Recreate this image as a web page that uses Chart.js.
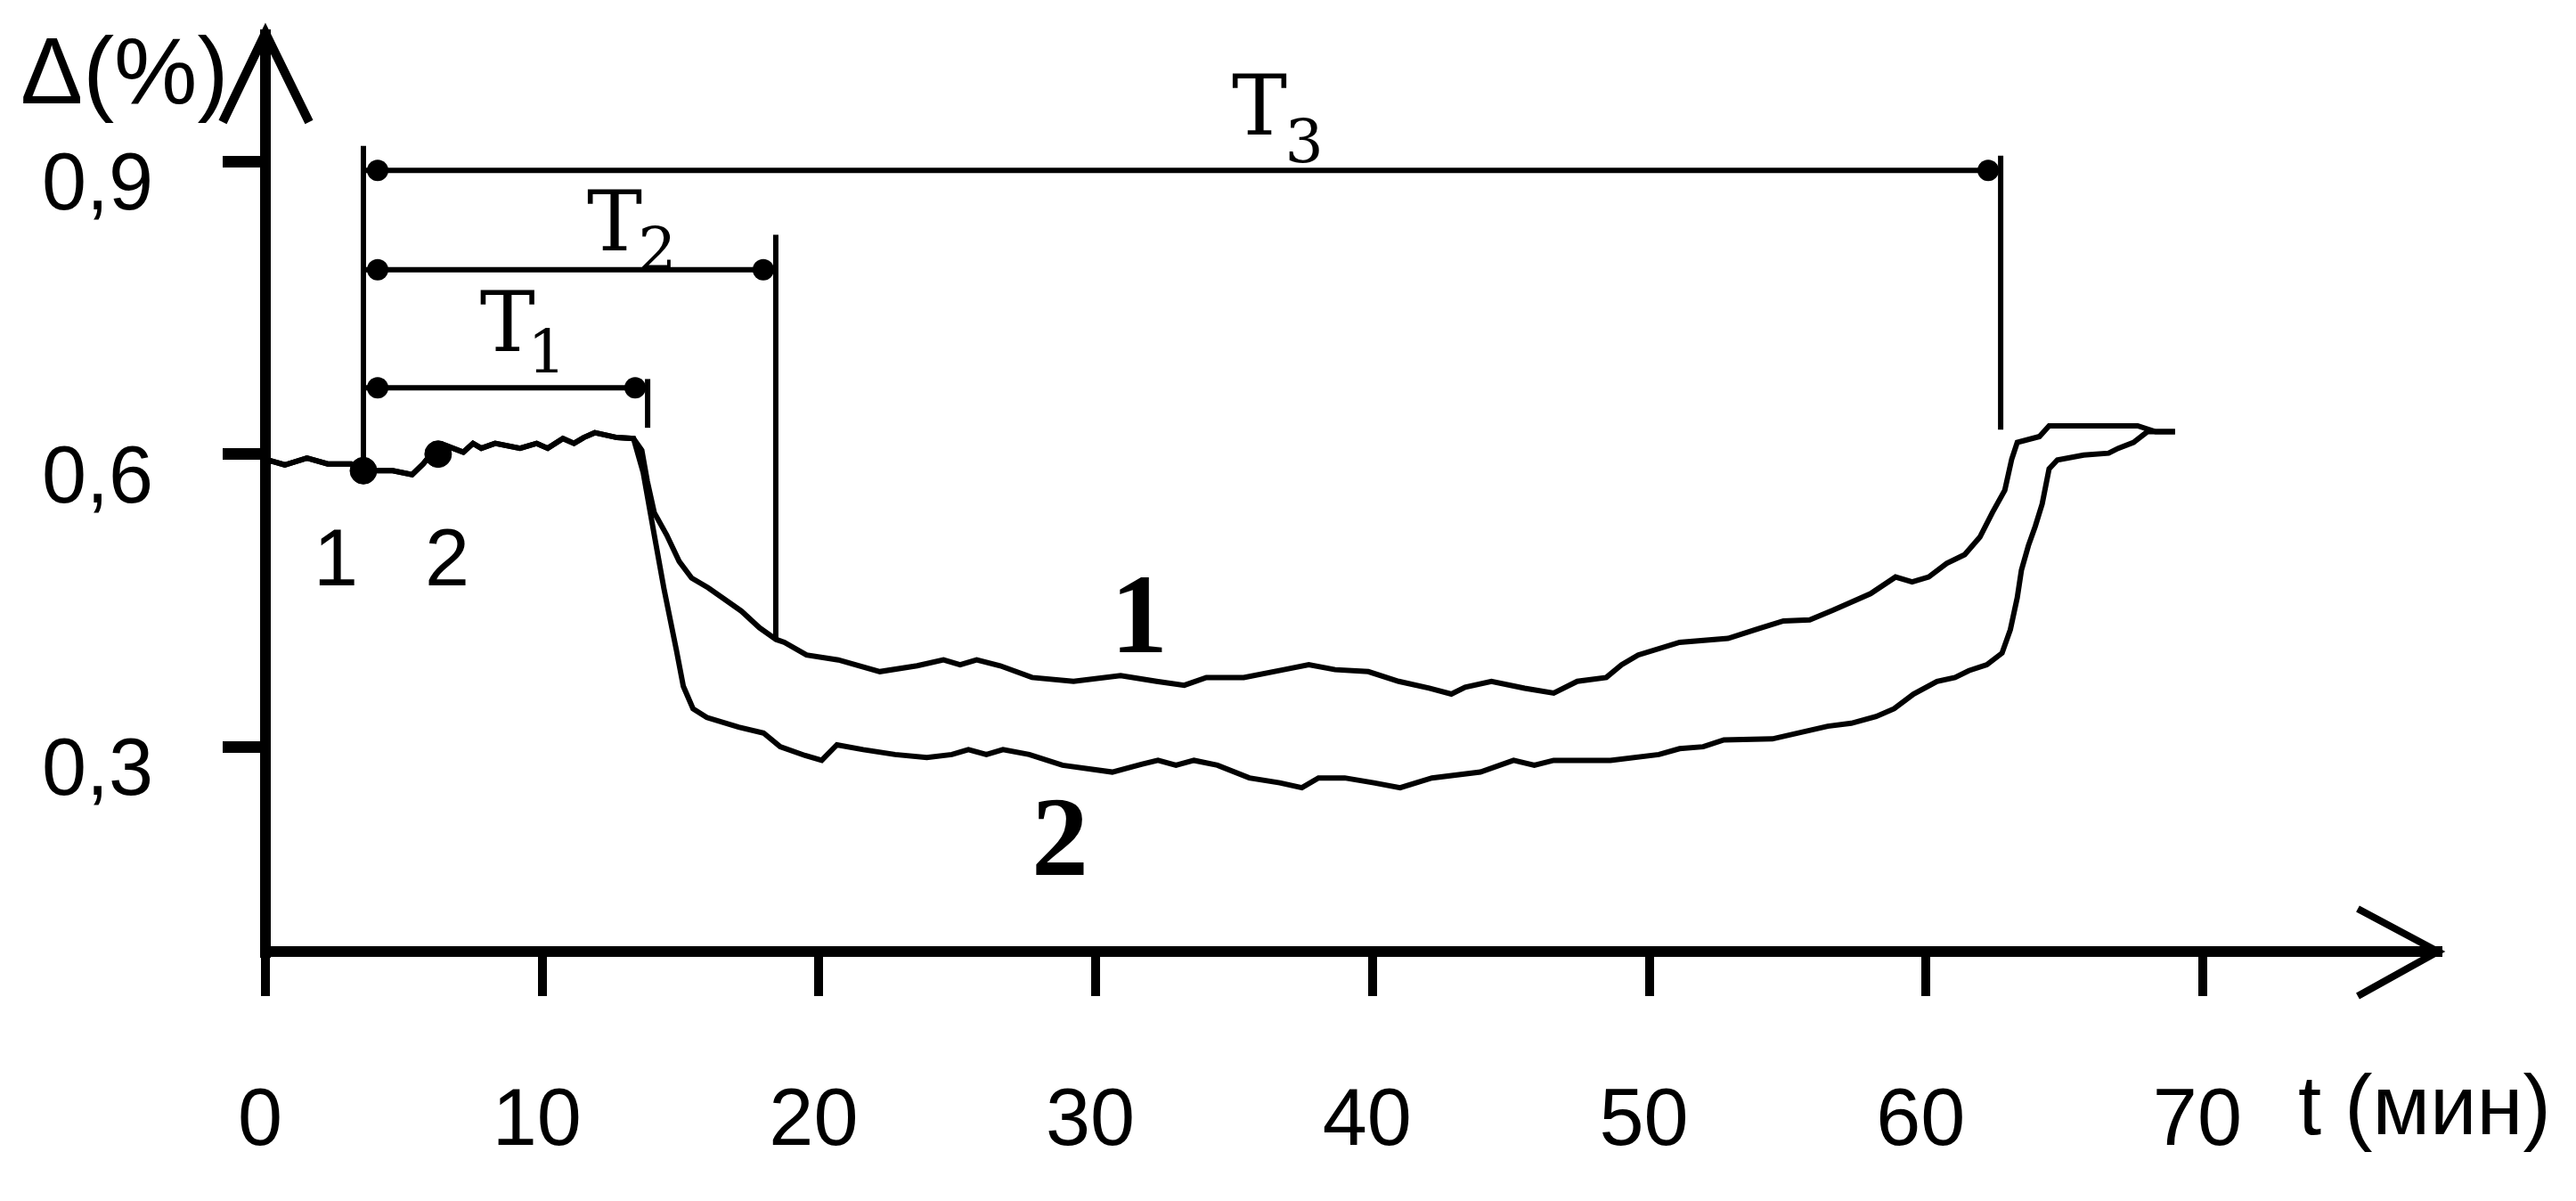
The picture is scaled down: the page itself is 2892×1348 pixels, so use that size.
<!DOCTYPE html>
<html>
<head>
<meta charset="utf-8">
<script src="https://cdn.jsdelivr.net/npm/chart.js@4.4.0/dist/chart.umd.min.js"></script>
<style>
    html, body { margin: 0; padding: 0; background: #fff; }
    .grafico-contenedor { width: 2892px; height: 1348px; }
</style>
</head>
<body>
<div class="grafico-contenedor">
    <canvas id="graficoDelta"></canvas>
</div>
<script>
// Tramo común de las dos curvas (hasta ~13 min)
const tiempoComun = [0.05, 0.2, 0.7, 1.5, 2.25, 3.1, 3.54, 4.6, 5.3, 5.7, 6.1, 6.5, 7.15, 7.5, 7.8, 8.3, 9.2, 9.8, 10.2, 10.75, 11.15, 11.5, 11.9, 12.7, 13.3];
const valorComun = [0.590, 0.593, 0.589, 0.596, 0.590, 0.590, 0.583, 0.583, 0.579, 0.590, 0.604, 0.609, 0.602, 0.611, 0.606, 0.611, 0.606, 0.611, 0.606, 0.616, 0.611, 0.617, 0.622, 0.617, 0.616];

// Curva 1
const tiempoCurva1 = [13.6, 13.8, 14.05, 14.5, 14.95, 15.4, 16.0, 16.55, 17.2, 17.85, 18.45, 18.75, 19.55, 20.7, 22.2, 23.55, 24.5, 25.1, 25.7, 26.55, 27.7, 29.2, 30.9, 32.2, 33.2, 34.0, 35.35, 36.8, 37.7, 38.65, 39.85, 40.95, 42.05, 42.85, 43.35, 44.3, 45.5, 46.55, 47.4, 48.45, 49.0, 49.6, 51.1, 52.85, 53.95, 54.85, 55.8, 56.65, 57.2, 58.0, 58.9, 59.5, 60.1, 60.75, 61.4, 61.95, 62.4, 62.85, 63.1, 63.3, 64.1, 64.45, 66.05, 67.65, 68.3, 69.0];
const valorCurva1 = [0.604, 0.572, 0.540, 0.517, 0.490, 0.473, 0.463, 0.452, 0.439, 0.422, 0.410, 0.407, 0.394, 0.389, 0.377, 0.383, 0.389, 0.384, 0.389, 0.383, 0.371, 0.367, 0.373, 0.367, 0.363, 0.371, 0.371, 0.379, 0.384, 0.379, 0.377, 0.367, 0.360, 0.354, 0.361, 0.367, 0.360, 0.355, 0.367, 0.371, 0.384, 0.394, 0.407, 0.411, 0.421, 0.429, 0.430, 0.440, 0.447, 0.457, 0.474, 0.469, 0.474, 0.488, 0.497, 0.515, 0.540, 0.563, 0.595, 0.612, 0.618, 0.629, 0.629, 0.629, 0.623, 0.623];

// Curva 2
const tiempoCurva2 = [13.65, 14.05, 14.4, 14.85, 15.1, 15.45, 15.95, 17.1, 18.0, 18.6, 19.5, 20.1, 20.65, 21.6, 22.75, 23.9, 24.8, 25.4, 26.05, 26.65, 27.6, 28.8, 30.6, 31.65, 32.25, 32.9, 33.55, 34.4, 35.55, 36.65, 37.45, 38.05, 39.0, 40.05, 41.0, 42.15, 43.9, 45.1, 45.85, 46.55, 48.6, 50.35, 51.1, 51.95, 52.7, 54.45, 56.45, 57.3, 58.2, 58.85, 59.55, 60.4, 61.05, 61.55, 62.2, 62.75, 63.05, 63.3, 63.45, 63.7, 63.95, 64.2, 64.45, 64.75, 65.7, 66.6, 66.95, 67.5, 68.0, 69.0];
const valorCurva2 = [0.581, 0.517, 0.462, 0.399, 0.362, 0.339, 0.330, 0.320, 0.314, 0.300, 0.291, 0.286, 0.302, 0.297, 0.292, 0.289, 0.292, 0.297, 0.292, 0.297, 0.292, 0.281, 0.274, 0.282, 0.286, 0.281, 0.286, 0.281, 0.268, 0.263, 0.258, 0.268, 0.268, 0.263, 0.258, 0.268, 0.274, 0.286, 0.281, 0.286, 0.286, 0.292, 0.298, 0.300, 0.307, 0.308, 0.321, 0.324, 0.331, 0.339, 0.354, 0.367, 0.371, 0.378, 0.384, 0.396, 0.420, 0.453, 0.481, 0.506, 0.526, 0.549, 0.585, 0.594, 0.599, 0.601, 0.606, 0.612, 0.623, 0.623];

// Puntos de inicio 1 y 2
const tiempoMarcas = [3.54, 6.24];
const valorMarcas = [0.583, 0.600];
const etiquetasMarcas = ['1', '2'];

// Ejes
const ticksTiempo = [0, 10, 20, 30, 40, 50, 60, 70];
const ticksDelta = [0.3, 0.6, 0.9];

// Intervalos T1, T2, T3 (min) y su altura en el eje Δ
const cotaInicio = 3.54;
const cotaFin = [13.81, 18.44, 62.7];
const cotaNivel = [0.668, 0.789, 0.891];
const cotaArriba = [0.677, 0.825, 0.906];
const cotaAbajo = [0.627, 0.410, 0.625];
const cotaNombres = ['1', '2', '3'];

const fuenteNum = '"Liberation Sans", sans-serif';
const fuenteT = '"DejaVu Serif", serif';
const fuenteCurva = '"Liberation Serif", serif';

function armarPuntos(tiempos, valores) {
    return tiempos.map((t, i) => ({ x: t, y: valores[i] }));
}

const anotaciones = {
    id: 'anotaciones',
    afterDraw(chart) {
        const { ctx, chartArea } = chart;
        const ejeX = chart.scales.x;
        const ejeY = chart.scales.y;
        const px = t => ejeX.getPixelForValue(t);
        const py = v => ejeY.getPixelForValue(v);

        const linea = (x1, y1, x2, y2) => {
            ctx.beginPath();
            ctx.moveTo(x1, y1);
            ctx.lineTo(x2, y2);
            ctx.stroke();
        };
        const punta = (cx, cy) => {
            ctx.beginPath();
            ctx.arc(cx, cy, 12, 0, Math.PI * 2);
            ctx.fill();
        };

        ctx.save();
        ctx.strokeStyle = '#000';
        ctx.fillStyle = '#000';

        // flechas de los ejes
        ctx.lineWidth = 10;
        ctx.beginPath();
        ctx.moveTo(chartArea.left - 48, chartArea.top + 98);
        ctx.lineTo(chartArea.left, chartArea.top - 2);
        ctx.lineTo(chartArea.left + 49, chartArea.top + 98);
        ctx.stroke();
        ctx.lineWidth = 8;
        ctx.beginPath();
        ctx.moveTo(chartArea.right - 90, chartArea.bottom - 48);
        ctx.lineTo(chartArea.right, chartArea.bottom);
        ctx.lineTo(chartArea.right - 90, chartArea.bottom + 50);
        ctx.stroke();

        // cotas T1, T2, T3
        ctx.lineWidth = 6;
        const x0 = px(cotaInicio);
        linea(x0, py(0.916), x0, py(valorMarcas[0]));
        cotaFin.forEach((tFin, i) => {
            const yc = py(cotaNivel[i]);
            const x1 = px(tFin);
            linea(x0, yc, x1, yc);
            linea(x1, py(cotaArriba[i]), x1, py(cotaAbajo[i]));
            punta(x0 + 16, yc);
            punta(x1 - 14, yc);
        });

        // letras T con subíndice
        const letrasT = [[8.75, 0.706, 10.17, 0.684], [12.62, 0.809, 14.16, 0.789], [35.92, 0.928, 37.53, 0.899]];
        ctx.textAlign = 'center';
        ctx.textBaseline = 'alphabetic';
        letrasT.forEach((p, i) => {
            ctx.font = '93px ' + fuenteT;
            ctx.fillText('T', px(p[0]), py(p[1]));
            ctx.font = '68px ' + fuenteT;
            ctx.fillText(cotaNombres[i], px(p[2]), py(p[3]));
        });

        // números bajo los puntos de inicio
        ctx.font = '90px ' + fuenteNum;
        ctx.fillText(etiquetasMarcas[0], px(2.54), py(0.465));
        ctx.fillText(etiquetasMarcas[1], px(6.57), py(0.465));

        // números de las curvas
        ctx.font = 'bold 128px ' + fuenteCurva;
        ctx.fillText('1', px(31.57), py(0.397));
        ctx.fillText('2', px(28.71), py(0.169));

        // títulos de los ejes
        ctx.textAlign = 'left';
        ctx.font = '105px ' + fuenteNum;
        ctx.fillText('Δ(%)', 23, 116);
        ctx.font = '94px ' + fuenteNum;
        ctx.fillText('t (мин)', px(70) + 107, 1273);

        ctx.restore();
    }
};

const ctx = document.getElementById('graficoDelta').getContext('2d');
new Chart(ctx, {
    type: 'line',
    data: {
        datasets: [
            {
                label: '1',
                data: armarPuntos(tiempoComun.concat(tiempoCurva1), valorComun.concat(valorCurva1)),
                borderColor: '#000',
                borderWidth: 6,
                pointRadius: 0,
                tension: 0,
                fill: false
            },
            {
                label: '2',
                data: armarPuntos(tiempoComun.concat(tiempoCurva2), valorComun.concat(valorCurva2)),
                borderColor: '#000',
                borderWidth: 6,
                pointRadius: 0,
                tension: 0,
                fill: false
            },
            {
                type: 'scatter',
                label: 'inicio',
                data: armarPuntos(tiempoMarcas, valorMarcas),
                backgroundColor: '#000',
                borderColor: '#000',
                pointRadius: 15,
                showLine: false
            }
        ]
    },
    options: {
        responsive: true,
        maintainAspectRatio: false,
        animation: false,
        devicePixelRatio: 1,
        layout: { padding: { left: 0, top: 39, right: 155, bottom: 0 } },
        plugins: {
            legend: { display: false },
            tooltip: { enabled: false }
        },
        scales: {
            x: {
                type: 'linear',
                position: 'bottom',
                min: 0,
                max: 78.5,
                afterBuildTicks: s => { s.ticks = ticksTiempo.map(v => ({ value: v })); },
                afterFit: s => { s.height = 280; s.paddingLeft = 0; s.paddingRight = 0; },
                grid: { drawOnChartArea: false, drawTicks: true, tickLength: 50, lineWidth: 10, color: '#000' },
                border: { display: true, width: 12, color: '#000' },
                ticks: {
                    color: '#000',
                    font: { family: fuenteNum, size: 90 },
                    padding: 88,
                    labelOffset: -6,
                    maxRotation: 0,
                    autoSkip: false
                }
            },
            y: {
                type: 'linear',
                min: 0.09,
                max: 1.03,
                afterBuildTicks: s => { s.ticks = ticksDelta.map(v => ({ value: v })); },
                afterFit: s => { s.width = 298; s.paddingTop = 0; s.paddingBottom = 0; },
                grid: { drawOnChartArea: false, drawTicks: true, tickLength: 48, lineWidth: 13, color: '#000' },
                border: { display: true, width: 12, color: '#000' },
                ticks: {
                    color: '#000',
                    font: { family: fuenteNum, size: 90 },
                    padding: 78,
                    labelOffset: 29,
                    callback: v => String(v).replace('.', ',')
                }
            }
        }
    },
    plugins: [anotaciones]
});
</script>
</body>
</html>
